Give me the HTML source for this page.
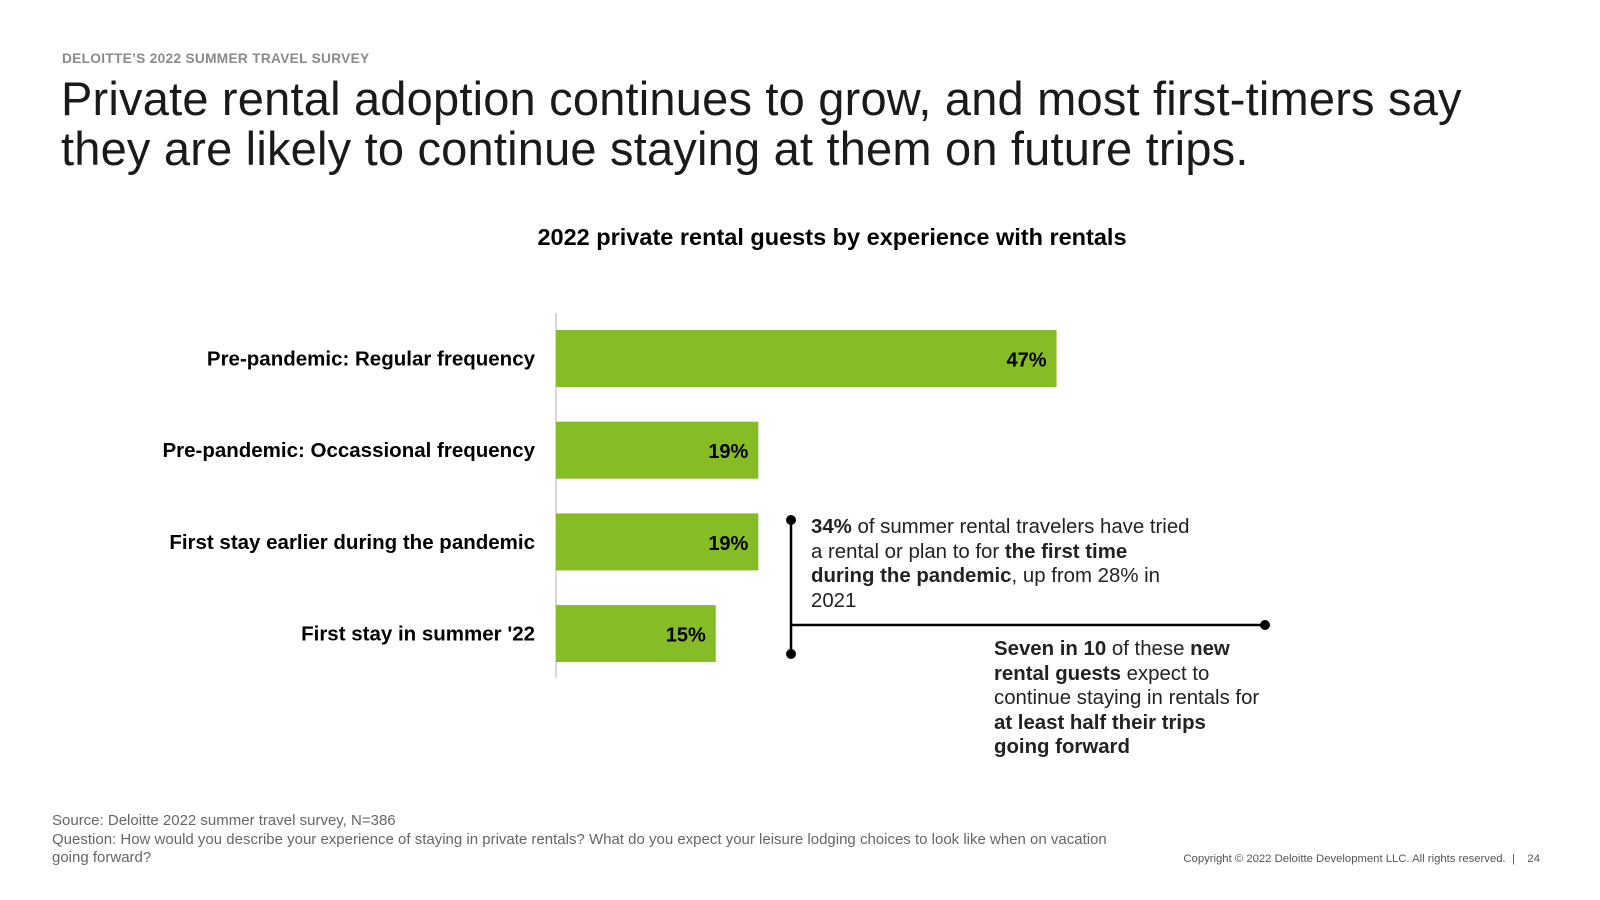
<!DOCTYPE html>
<html><head><meta charset="utf-8"><style>
body{margin:0;width:1600px;height:900px;background:#fff;font-family:"Liberation Sans",sans-serif;position:relative;overflow:hidden;color:#000}
.abs{position:absolute}
.kicker{left:62px;top:51px;font-size:13.7px;font-weight:bold;color:#8a8a8a;letter-spacing:0.3px}
.title{left:61px;top:74px;font-size:47px;line-height:50px;color:#1a1a1a;letter-spacing:0.2px}
.ctitle{left:0;width:1664px;text-align:center;top:224px;font-size:23.5px;font-weight:bold}
.note{font-size:20.4px;line-height:24.5px;color:#222}
.foot{left:52px;top:812px;font-size:15px;line-height:18.5px;color:#666}
.copy{right:60px;top:853px;font-size:11.3px;color:#555}
</style></head><body>
<div class="abs kicker">DELOITTE’S 2022 SUMMER TRAVEL SURVEY</div>
<div class="abs title">Private rental adoption continues to grow, and most first-timers say<br>they are likely to continue staying at them on future trips.</div>
<div class="abs ctitle">2022 private rental guests by experience with rentals</div>
<svg class="abs" style="left:0;top:0" width="1600" height="900" id="chart"></svg>
<div class="abs note" style="left:811px;top:515px;width:420px"><b>34%</b> of summer rental travelers have tried<br>a rental or plan to for <b>the first time<br>during the pandemic</b>, up from 28% in<br>2021</div>
<div class="abs note" style="left:994px;top:637px;width:300px"><b>Seven in 10</b> of these <b>new<br>rental guests</b> expect to<br>continue staying in rentals for<br><b>at least half their trips<br>going forward</b></div>
<div class="abs foot">Source: Deloitte 2022 summer travel survey, N=386<br>Question: How would you describe your experience of staying in private rentals? What do you expect your leisure lodging choices to look like when on vacation<br>going forward?</div>
<div class="abs copy">Copyright © 2022 Deloitte Development LLC. All rights reserved. &nbsp;| &nbsp;&nbsp;&nbsp;24</div>
<script>
const categories=["Pre-pandemic: Regular frequency","Pre-pandemic: Occassional frequency","First stay earlier during the pandemic","First stay in summer '22"];
const values=[47,19,19,15];
const valueLabels=["47%","19%","19%","15%"];
const svg=document.getElementById('chart');const NS='http://www.w3.org/2000/svg';
const x0=556,pxPer=10.65,y0=330,step=91.7,bh=57;
const xs=v=>x0+v*pxPer;const ys=i=>y0+i*step;
function mk(t,a){const e=document.createElementNS(NS,t);for(const k in a)e.setAttribute(k,a[k]);svg.appendChild(e);return e;}
const ax=mk('line',{x1:x0,x2:x0,y1:313,y2:678,stroke:'#ccc','stroke-width':1.5});


categories.forEach((c,i)=>{
 const r=mk('rect',{x:x0,y:ys(i),width:xs(values[i])-x0,height:bh,fill:'#86bc25'});
 
 
 const l=mk('text',{x:535,y:ys(i)+bh/2+7,'text-anchor':'end','font-size':20.5,'font-weight':'bold','font-family':'Liberation Sans, sans-serif'});
 l.textContent=c;
 
 
 const v=mk('text',{x:xs(values[i])-10,y:ys(i)+bh/2+8,'text-anchor':'end','font-size':20,'font-weight':'bold','font-family':'Liberation Sans, sans-serif'});
 v.textContent=valueLabels[i];
 
 
});
const g=[['line',{x1:791,x2:791,y1:520,y2:654,stroke:'#000','stroke-width':2.5}],['line',{x1:791,x2:1265,y1:625,y2:625,stroke:'#000','stroke-width':2.5}],['circle',{cx:791,cy:520,r:5}],['circle',{cx:791,cy:654,r:5}],['circle',{cx:1265,cy:625,r:5}]];
g.forEach(([t,a])=>{const e=mk(t,a);
 
 });
</script>
</body></html>
